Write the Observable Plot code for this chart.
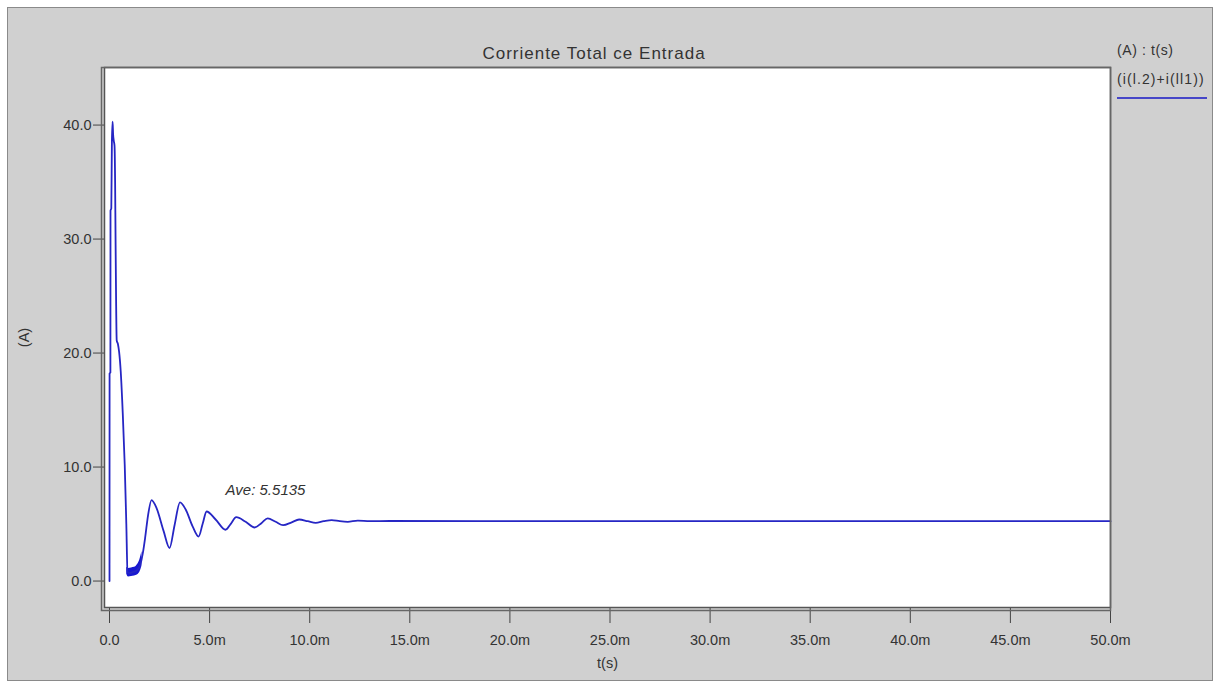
<!DOCTYPE html>
<html><head><meta charset="utf-8">
<script src="https://cdn.jsdelivr.net/npm/d3@7"></script>
<script src="https://cdn.jsdelivr.net/npm/@observablehq/plot@0.6"></script>
<style>
body{margin:0;background:#fff;font-family:"Liberation Sans",Arial,sans-serif;}
#wrap{position:relative;width:1216px;height:682px;overflow:hidden;}
#panel{position:absolute;left:7px;top:7px;width:1204px;height:672px;background:#d0d0d0;border:1px solid #8a8a8a;}
#chart{position:absolute;left:0;top:0;}
.t{position:absolute;color:#333;white-space:nowrap;line-height:1;}
#title{left:594px;top:53px;transform:translate(-50%,-50%);font-size:17px;letter-spacing:1px;}
#leg1{left:1117px;top:50px;transform:translateY(-50%);font-size:14px;letter-spacing:0.6px;}
#leg2{left:1117px;top:79px;transform:translateY(-50%);font-size:14px;letter-spacing:1.1px;}
#legline{position:absolute;left:1117px;top:97px;width:90px;height:2px;background:#4646c8;}
</style></head><body>
<div id="wrap"><div id="panel"></div><div id="chart"></div>
<div class="t" id="title">Corriente Total ce Entrada</div>
<div class="t" id="leg1">(A) : t(s)</div>
<div class="t" id="leg2">(i(l.2)+i(ll1))</div>
<div id="legline"></div>
</div>
<script>
const timeMs = [0, 0.004, 0.045, 0.05, 0.09, 0.12, 0.155, 0.18, 0.215, 0.25, 0.28, 0.3, 0.33, 0.36, 0.42, 0.48, 0.56, 0.66, 0.76, 0.84, 0.9, 1.0, 1.2, 1.4, 1.55, 1.66, 1.78, 1.92, 2.1, 2.35, 2.7, 3.0, 3.25, 3.52, 3.8, 4.15, 4.45, 4.65, 4.85, 5.3, 5.8, 6.05, 6.33, 6.8, 7.25, 7.6, 7.9, 8.3, 8.67, 9.1, 9.47, 9.9, 10.3, 10.7, 11.1, 11.5, 11.9, 12.4, 13.0, 14.0, 20, 30, 40, 50];
const currentA = [0, 18.2, 18.3, 32.5, 32.7, 38.6, 40.3, 39.2, 38.6, 38.2, 35, 30.5, 24.5, 21.1, 20.8, 20.1, 18.4, 14.8, 10.2, 5.0, 0.8, 0.7, 0.8, 1.0, 1.5, 2.4, 3.8, 5.7, 7.1, 6.4, 4.4, 2.9, 4.9, 6.9, 6.3, 4.8, 3.9, 5.0, 6.1, 5.4, 4.5, 5.0, 5.6, 5.2, 4.7, 5.1, 5.5, 5.2, 4.9, 5.15, 5.4, 5.25, 5.1, 5.25, 5.35, 5.25, 5.2, 5.3, 5.25, 5.27, 5.25, 5.25, 5.25, 5.25];
// ripple band around the first minimum (drawn as a filled band)
const rippleT = [0.86, 0.95, 1.1, 1.25, 1.4, 1.52, 1.62];
const rippleLow = [0.6, 0.35, 0.4, 0.45, 0.55, 0.8, 1.3];
const rippleHigh = [1.2, 1.1, 1.15, 1.2, 1.45, 1.9, 2.6];
const xTicks = [0, 5, 10, 15, 20, 25, 30, 35, 40, 45, 50];
const yTicks = [0, 10, 20, 30, 40];
const annotations = [{t: 5.8, a: 8.0, label: "Ave: 5.5135"}];

const data = timeMs.map((t, i) => ({t, a: currentA[i]}));
const ripple = rippleT.map((t, i) => ({t, lo: rippleLow[i], hi: rippleHigh[i]}));

const chart = Plot.plot({
  width: 1216, height: 682,
  marginLeft: 104, marginRight: 106, marginTop: 67, marginBottom: 75,
  style: {background: "transparent", fontFamily: "Liberation Sans, Arial, sans-serif", fontSize: "14.5px", color: "#333"},
  x: {domain: [-0.25, 50]},
  y: {domain: [-2.32, 45.05]},
  marks: [
    Plot.frame({fill: "white"}),
    Plot.axisX({ticks: xTicks, tickSize: 16, tickPadding: 11, tickFormat: d => d === 0 ? "0.0" : d.toFixed(1) + "m",
      label: "t(s)", labelAnchor: "center", labelArrow: "none", labelOffset: 60, stroke: "#444", letterSpacing: 0.6}),
    Plot.axisY({ticks: yTicks, tickSize: 11, tickPadding: 2, tickFormat: d => d.toFixed(1),
      label: "(A)", labelAnchor: "center", labelArrow: "none", labelOffset: 86, stroke: "#444", letterSpacing: 0.4}),
    Plot.areaY(ripple, {x: "t", y1: "lo", y2: "hi", curve: "monotone-x", fill: "#1818d0"}),
    Plot.line(data, {x: "t", y: "a", curve: "monotone-x", stroke: "#2626c4", strokeWidth: 1.8}),
    Plot.text(annotations, {x: "t", y: "a", text: "label", textAnchor: "start", fontStyle: "italic", fontSize: 15, fill: "#333", letterSpacing: 0.3}),
    Plot.frame({stroke: "#555", strokeWidth: 1.5}),
    Plot.frame({stroke: "#666", strokeWidth: 1.5, insetLeft: -3, insetBottom: -3})
  ]
});
document.getElementById("chart").appendChild(chart);
</script>
</body></html>
